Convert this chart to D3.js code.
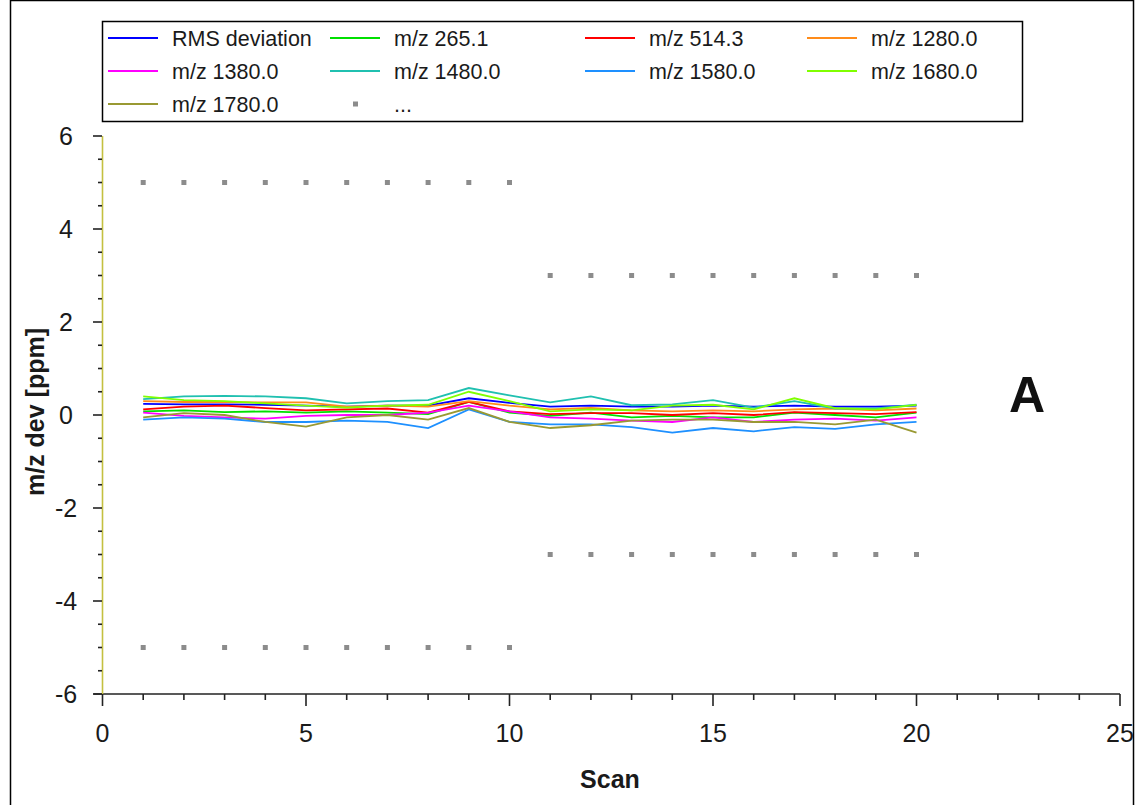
<!DOCTYPE html>
<html><head><meta charset="utf-8">
<script src="https://cdn.jsdelivr.net/npm/d3@7"></script>
<style>body{margin:0;background:#fff;font-family:"Liberation Sans",Arial,sans-serif}</style>
</head><body>
<svg id="c" width="1136" height="805"></svg>
<script>
const scans = d3.range(1, 21);
const seriesNames = ["RMS deviation","m/z 265.1","m/z 514.3","m/z 1280.0","m/z 1380.0","m/z 1480.0","m/z 1580.0","m/z 1680.0","m/z 1780.0"];
const seriesColors = ["#0000ff","#00e000","#ff0000","#ff8c1a","#ff00ff","#20c0b0","#1e90ff","#80ff00","#999933"];
const rms   = [0.24,0.23,0.23,0.22,0.20,0.18,0.20,0.20,0.36,0.26,0.18,0.20,0.18,0.18,0.20,0.18,0.20,0.18,0.18,0.20];
const mz265 = [0.08,0.10,0.06,0.08,0.05,0.08,0.05,0.02,0.28,0.05,-0.02,0.05,-0.05,-0.02,-0.05,-0.05,0.05,0.00,-0.05,0.05];
const mz514 = [0.12,0.18,0.20,0.15,0.10,0.12,0.14,0.05,0.28,0.08,0.02,0.04,0.04,0.00,0.04,0.00,0.06,0.04,0.02,0.06];
const mz1280= [0.30,0.28,0.28,0.27,0.27,0.18,0.20,0.18,0.30,0.20,0.12,0.15,0.10,0.08,0.10,0.08,0.12,0.14,0.10,0.14];
const mz1380= [0.05,-0.02,-0.05,-0.08,-0.02,0.00,0.00,0.05,0.20,0.08,-0.05,-0.08,-0.12,-0.15,-0.05,-0.15,-0.10,-0.08,-0.12,-0.05];
const mz1480= [0.34,0.40,0.41,0.40,0.36,0.25,0.30,0.32,0.58,0.42,0.27,0.40,0.21,0.23,0.32,0.16,0.30,0.14,0.14,0.22];
const mz1580= [-0.10,-0.05,-0.08,-0.15,-0.15,-0.12,-0.15,-0.28,0.12,-0.15,-0.20,-0.20,-0.26,-0.38,-0.28,-0.35,-0.26,-0.30,-0.20,-0.15];
const mz1680= [0.40,0.32,0.30,0.25,0.20,0.16,0.20,0.22,0.50,0.30,0.08,0.12,0.10,0.20,0.22,0.12,0.36,0.15,0.12,0.22];
const mz1780= [-0.05,0.04,0.00,-0.15,-0.25,-0.05,0.00,-0.10,0.15,-0.15,-0.28,-0.22,-0.12,-0.10,-0.10,-0.15,-0.15,-0.20,-0.10,-0.38];
const seriesValues = [rms,mz265,mz514,mz1280,mz1380,mz1480,mz1580,mz1680,mz1780];
const limitScans = d3.range(1, 21);
const limitUpper = [5,5,5,5,5,5,5,5,5,5,3,3,3,3,3,3,3,3,3,3];
const limitLower = [-5,-5,-5,-5,-5,-5,-5,-5,-5,-5,-3,-3,-3,-3,-3,-3,-3,-3,-3,-3];
const xTicks = [0,5,10,15,20,25];
const yTicks = [-6,-4,-2,0,2,4,6];

const svg = d3.select("#c");
const x = d3.scaleLinear().domain([0,25]).range([102.5,1120]);
const y = d3.scaleLinear().domain([-6,6]).range([694,136]);

// outer frame
svg.append("rect").attr("x",10.5).attr("y",0.5).attr("width",1123).attr("height",820)
  .attr("fill","none").attr("stroke","#000").attr("stroke-width",1.5);

// limit markers
[limitUpper, limitLower].forEach(arr=>{
  svg.append("g").selectAll("rect").data(limitScans).join("rect")
    .attr("x",(d)=>x(d)-2.5).attr("y",(d,i)=>y(arr[i])-2.5)
    .attr("width",5).attr("height",5).attr("fill","#8c8c8c");
});

// lines
const line = d3.line().x((d,i)=>x(scans[i])).y(d=>y(d));
seriesValues.forEach((vals,k)=>{
  svg.append("path").datum(vals).attr("d",line).attr("fill","none")
    .attr("stroke",seriesColors[k]).attr("stroke-width",1.8);
});

// x axis
const xAxisG = svg.append("g").attr("transform","translate(0,694)");
xAxisG.append("line").attr("x1",x(0)-9).attr("x2",x(25)).attr("stroke","#222").attr("stroke-width",1.6);
xAxisG.selectAll("line.mn").data(d3.range(0,26)).join("line").attr("class","mn")
  .attr("x1",d=>x(d)).attr("x2",d=>x(d)).attr("y1",0).attr("y2",d=>d%5===0?12:6)
  .attr("stroke","#222").attr("stroke-width",1.6);
xAxisG.selectAll("text").data(xTicks).join("text")
  .attr("x",d=>x(d)).attr("y",48).attr("text-anchor","middle")
  .style("font-size","25px").attr("fill","#1a1a1a").text(d=>d);

// y axis
const yAxisG = svg.append("g");
yAxisG.append("line").attr("x1",102.5).attr("x2",102.5).attr("y1",y(-6)).attr("y2",y(6))
  .attr("stroke","#c4c040").attr("stroke-width",1.6);
yAxisG.selectAll("line.mn").data(d3.range(-6,6.01,0.5)).join("line").attr("class","mn")
  .attr("x1",d=>Math.abs(d%2)<1e-9?93:98).attr("x2",102).attr("y1",d=>y(d)).attr("y2",d=>y(d))
  .attr("stroke","#222").attr("stroke-width",1.6);
yAxisG.selectAll("text").data(yTicks).join("text")
  .attr("x",66).attr("y",d=>y(d)+9).attr("text-anchor","middle")
  .style("font-size","25px").attr("fill","#1a1a1a").text(d=>d);

// axis titles
svg.append("text").attr("x",610).attr("y",788).attr("text-anchor","middle")
  .style("font-size","25px").style("font-weight","bold").attr("fill","#1a1a1a").text("Scan");
svg.append("text").attr("transform","translate(44,412) rotate(-90)").attr("text-anchor","middle")
  .style("font-size","25px").style("font-weight","bold").attr("fill","#1a1a1a").text("m/z dev [ppm]");

// panel label
svg.append("text").attr("x",1027).attr("y",412).attr("text-anchor","middle")
  .style("font-size","50px").style("font-weight","bold").attr("fill","#111").text("A");

// legend
const lg = svg.append("g");
lg.append("rect").attr("x",102.5).attr("y",21.5).attr("width",920).attr("height",100)
  .attr("fill","#fff").attr("stroke","#000").attr("stroke-width",1.5);
const colX = [108,330,585,807];
const rowY = [38,71,104];
const legendItems = seriesNames.map((n,i)=>({name:n,color:seriesColors[i],type:"line"}));
legendItems.push({name:"...",color:"#8c8c8c",type:"dot"});
legendItems.forEach((it,i)=>{
  const cx = colX[i%4], cy = rowY[Math.floor(i/4)];
  if(it.type==="line"){
    lg.append("line").attr("x1",cx).attr("x2",cx+50).attr("y1",cy).attr("y2",cy)
      .attr("stroke",it.color).attr("stroke-width",1.8);
  } else {
    lg.append("rect").attr("x",cx+23).attr("y",cy-2.5).attr("width",5).attr("height",5).attr("fill",it.color);
  }
  lg.append("text").attr("x",cx+64).attr("y",cy+8).style("font-size","21.5px")
    .attr("fill","#1a1a1a").text(it.name);
});
</script>
</body></html>
